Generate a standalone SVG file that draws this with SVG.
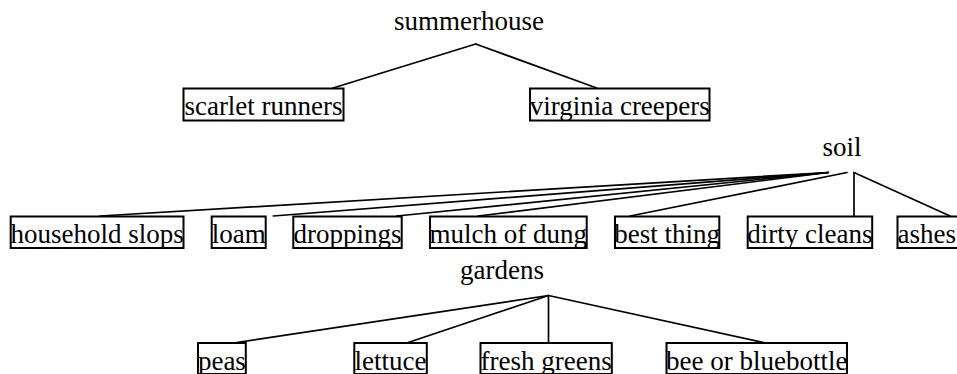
<svg xmlns="http://www.w3.org/2000/svg" width="957" height="374" viewBox="0 0 957 374">
<style>
text{font-family:"Liberation Serif","Times New Roman",serif;font-size:27px;fill:#000;text-anchor:middle}
.box{fill:#fff;stroke:#000;stroke-width:2}
#connectors line{stroke:#000;stroke-width:1.7;stroke-linecap:round}
</style>
<rect width="957" height="374" fill="#fff"/>
<g id="connectors">
<line x1="475.7" y1="44" x2="333" y2="88"/>
<line x1="475.7" y1="44" x2="596.7" y2="88"/>
<line x1="828.3" y1="172.5" x2="100" y2="216"/>
<line x1="828.3" y1="172.5" x2="273.3" y2="216"/>
<line x1="828.3" y1="172.5" x2="396.7" y2="216"/>
<line x1="828.3" y1="172.5" x2="478" y2="216"/>
<line x1="847" y1="172.5" x2="630" y2="216"/>
<line x1="854" y1="172.5" x2="854" y2="216"/>
<line x1="854" y1="172.5" x2="950" y2="216"/>
<line x1="548.5" y1="295.5" x2="233.6" y2="343"/>
<line x1="548.5" y1="295.5" x2="406.6" y2="343"/>
<line x1="548.5" y1="295.5" x2="548.5" y2="343"/>
<line x1="548.5" y1="295.5" x2="766" y2="343"/>
</g>
<g id="summerhouse"><text x="469" y="30">summerhouse</text></g>
<g id="soil"><text x="842" y="156">soil</text></g>
<g id="gardens"><text x="502" y="279">gardens</text></g>
<g id="scarlet-runners"><rect class="box" x="183.5" y="88.5" width="160" height="32"/><text x="263.5" y="115">scarlet runners</text></g>
<g id="virginia-creepers"><rect class="box" x="530" y="88.5" width="179.5" height="32"/><text x="619.75" y="115">virginia creepers</text></g>
<g id="household-slops"><rect class="box" x="10.7" y="216.5" width="172.8" height="31.5"/><text x="97.1" y="243">household slops</text></g>
<g id="loam"><rect class="box" x="211.7" y="216.5" width="54" height="31.5"/><text x="238.7" y="243">loam</text></g>
<g id="droppings"><rect class="box" x="293.3" y="216.5" width="108.4" height="31.5"/><text x="347.5" y="243">droppings</text></g>
<g id="mulch-of-dung"><rect class="box" x="430" y="216.5" width="156.7" height="31.5"/><text x="508.35" y="243">mulch of dung</text></g>
<g id="best-thing"><rect class="box" x="615" y="216.5" width="104.3" height="31.5"/><text x="667.15" y="243">best thing</text></g>
<g id="dirty-cleans"><rect class="box" x="747.7" y="216.5" width="124.5" height="31.5"/><text x="809.95" y="243">dirty cleans</text></g>
<g id="ashes"><rect class="box" x="897.5" y="216.5" width="62" height="31.5"/><text x="926.8" y="243">ashes</text></g>
<g id="peas"><rect class="box" x="198" y="343" width="47.8" height="31"/><text x="221.9" y="369.5">peas</text></g>
<g id="lettuce"><rect class="box" x="354.3" y="343" width="72.5" height="31"/><text x="390.55" y="369.5">lettuce</text></g>
<g id="fresh-greens"><rect class="box" x="480.5" y="343" width="131.3" height="31"/><text x="546.15" y="369.5">fresh greens</text></g>
<g id="bee-or-bluebottle"><rect class="box" x="666.5" y="343" width="180.5" height="31"/><text x="756.75" y="369.5">bee or bluebottle</text></g>
</svg>
